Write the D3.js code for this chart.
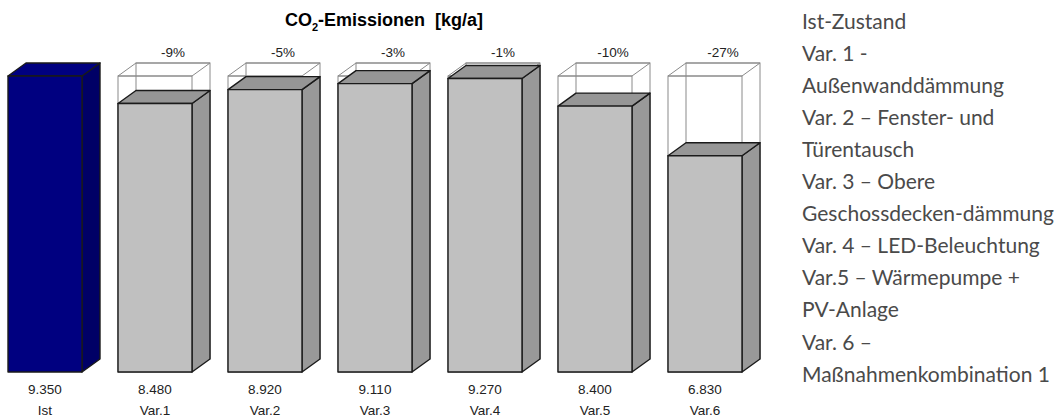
<!DOCTYPE html>
<html>
<head>
<meta charset="utf-8">
<script src="https://cdn.jsdelivr.net/npm/d3@7"></script>
<style>
  html, body { margin: 0; padding: 0; background: #fff; }
  svg { display: block; }
</style>
</head>
<body>
<svg id="chart" width="1061" height="419"></svg>
<script>
// CO2 emissions per variant, kg per year
const categories = ["Ist", "Var.1", "Var.2", "Var.3", "Var.4", "Var.5", "Var.6"];
const values = [9350, 8480, 8920, 9110, 9270, 8400, 6830];
const valueLabels = ["9.350", "8.480", "8.920", "9.110", "9.270", "8.400", "6.830"];
const changeLabels = ["", "-9%", "-5%", "-3%", "-1%", "-10%", "-27%"];
const legendLines = [
  "Ist-Zustand",
  "Var. 1 -",
  "Außenwanddämmung",
  "Var. 2 – Fenster- und",
  "Türentausch",
  "Var. 3 – Obere",
  "Geschossdecken-dämmung",
  "Var. 4 – LED-Beleuchtung",
  "Var.5 – Wärmepumpe +",
  "PV-Anlage",
  "Var. 6 –",
  "Maßnahmenkombination 1"
];

const svg = d3.select("#chart");
const sans = "Liberation Sans, Arial, sans-serif";

const x = d3.scaleBand().domain(categories).range([8, 742]).paddingInner(36 / 110).paddingOuter(0);
const y = d3.scaleLinear().domain([0, values[0]]).range([372, 76]);
const dx = 18, dy = 13;
const bw = x.bandwidth();
const base = values[0];

// title with subscript
const title = svg.append("text")
  .attr("x", 384).attr("y", 26)
  .attr("text-anchor", "middle")
  .attr("xml:space", "preserve")
  .attr("font-family", sans)
  .attr("font-size", 18).attr("font-weight", "bold").attr("fill", "#000");
title.append("tspan").text("CO");
title.append("tspan").attr("font-size", 11).attr("dy", 5).text("2");
title.append("tspan").attr("dy", -5).text("-Emissionen  [kg/a]");

const g = svg.append("g");

function faces(x0, yTop, y0) {
  return {
    front: [[x0, yTop], [x0 + bw, yTop], [x0 + bw, y0], [x0, y0]],
    top: [[x0, yTop], [x0 + dx, yTop - dy], [x0 + bw + dx, yTop - dy], [x0 + bw, yTop]],
    side: [[x0 + bw, yTop], [x0 + bw + dx, yTop - dy], [x0 + bw + dx, y0 - dy], [x0 + bw, y0]]
  };
}
const line = d3.line();

categories.forEach((c, i) => {
  const x0 = x(c);
  const y0 = y(0);
  const isBase = i === 0;

  // wireframe of the baseline level behind each variant
  if (!isBase) {
    const yr = y(base);
    const wf = g.append("g").attr("fill", "none").attr("stroke", "#8a8a8a").attr("stroke-width", 1);
    wf.append("rect").attr("x", x0 + dx).attr("y", yr - dy).attr("width", bw).attr("height", y0 - yr);
    wf.append("rect").attr("x", x0).attr("y", yr).attr("width", bw).attr("height", y0 - yr);
    wf.append("path").attr("d", line(faces(x0, yr, y0).top) + "Z");
  }

  const f = faces(x0, y(values[i]), y0);
  const frontFill = isBase ? "#000080" : "#c0c0c0";
  const topFill = isBase ? "#000080" : "#969696";
  const sideFill = isBase ? "#000066" : "#999999";
  const stroke = "#1a1a1a";
  ["side", "top", "front"].forEach(k => {
    g.append("path").attr("d", line(f[k]) + "Z")
      .attr("fill", k === "front" ? frontFill : k === "top" ? topFill : sideFill)
      .attr("stroke", stroke).attr("stroke-width", 1.4).attr("stroke-linejoin", "round");
  });

  // value and category labels
  const cx = x0 + bw / 2;
  g.append("text").attr("x", cx).attr("y", 394).attr("text-anchor", "middle")
    .attr("font-family", sans).attr("font-size", 13.5).attr("fill", "#222")
    .text(valueLabels[i]);
  g.append("text").attr("x", cx).attr("y", 415).attr("text-anchor", "middle")
    .attr("font-family", sans).attr("font-size", 13.5).attr("fill", "#222")
    .text(c);

  if (changeLabels[i]) {
    g.append("text").attr("x", x0 + dx + bw / 2).attr("y", 57).attr("text-anchor", "middle")
      .attr("font-family", sans).attr("font-size", 13.5).attr("fill", "#222")
      .text(changeLabels[i]);
  }
});

// legend text on the right
svg.append("g").selectAll("text").data(legendLines).join("text")
  .attr("x", 802)
  .attr("y", (d, i) => 20 + i * 32.1)
  .attr("dominant-baseline", "central")
  .attr("font-family", "Lato, sans-serif")
  .attr("font-size", 21)
  .attr("fill", "#4a4a4a")
  .text(d => d);
</script>
</body>
</html>
